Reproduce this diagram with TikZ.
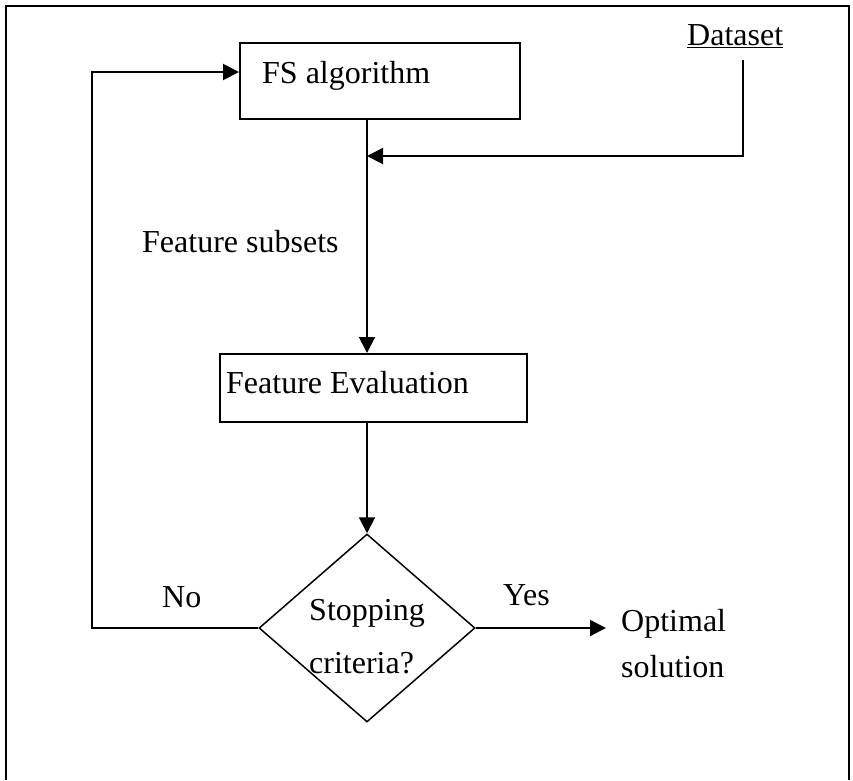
\documentclass[tikz,border=0pt]{standalone}
\usepackage{fontspec}
\setmainfont{Liberation Serif}
\usetikzlibrary{arrows.meta,shapes.geometric}

\tikzset{
  box/.style={draw, line width=2pt, rectangle, inner sep=0pt},
  decision/.style={draw, line width=1.5pt, diamond, inner sep=0pt},
  arr/.style={line width=2pt, -{Triangle[length=16pt,width=16pt]}},
  txt/.style={anchor=base west, inner sep=0pt, font=\fontsize{32}{38}\selectfont},
}

\begin{document}
\begin{tikzpicture}[x=1pt, y=-1pt]
  \useasboundingbox (0,0) rectangle (853,780);

  % outer frame
  \draw[line width=2.5pt] (6,780) -- (6,6) -- (849,6) -- (849,780);

  % blocks
  \node[box, minimum width=280pt, minimum height=76pt] (fs) at (380,81) {};
  \node[txt] (fslabel) at (262,83) {FS algorithm};

  \node[box, minimum width=307pt, minimum height=68pt] (fe) at (373.5,388) {};
  \node[txt] (felabel) at (226,393) {Feature Evaluation};

  \node[decision, minimum width=216pt, minimum height=188pt] (dia) at (367,628) {};
  \node[txt, anchor=base] (stop1) at (367,620) {Stopping};
  \node[txt] (stop2) at (309,673) {criteria?};

  % free labels
  \node[txt] (ds) at (687,45) {\underline{Dataset}};
  \node[txt] (subsets) at (142,252) {Feature subsets};
  \node[txt] (no) at (162,607) {No};
  \node[txt] (yes) at (503,605) {Yes};
  \node[txt] (opt1) at (621,631) {Optimal};
  \node[txt] (opt2) at (621,677) {solution};

  % helper points
  \coordinate (spine) at (367,0);
  \coordinate (dsfoot) at (743,60);
  \coordinate (merge) at (367,156);
  \coordinate (loop) at (92,72);
  \coordinate (yestip) at (606,628);

  % connectors
  \draw[arr] (fs.south -| spine) -- (fe.north -| spine);
  \draw[arr] (dsfoot) -- (dsfoot |- merge) -- (merge);
  \draw[arr] (fe.south -| dia.north) -- (dia.north);
  \draw[arr] (dia.east) -- (yestip);
  \draw[arr] (dia.west) -- (dia.west -| loop) -- (loop) -- (loop -| fs.west);
\end{tikzpicture}
\end{document}
